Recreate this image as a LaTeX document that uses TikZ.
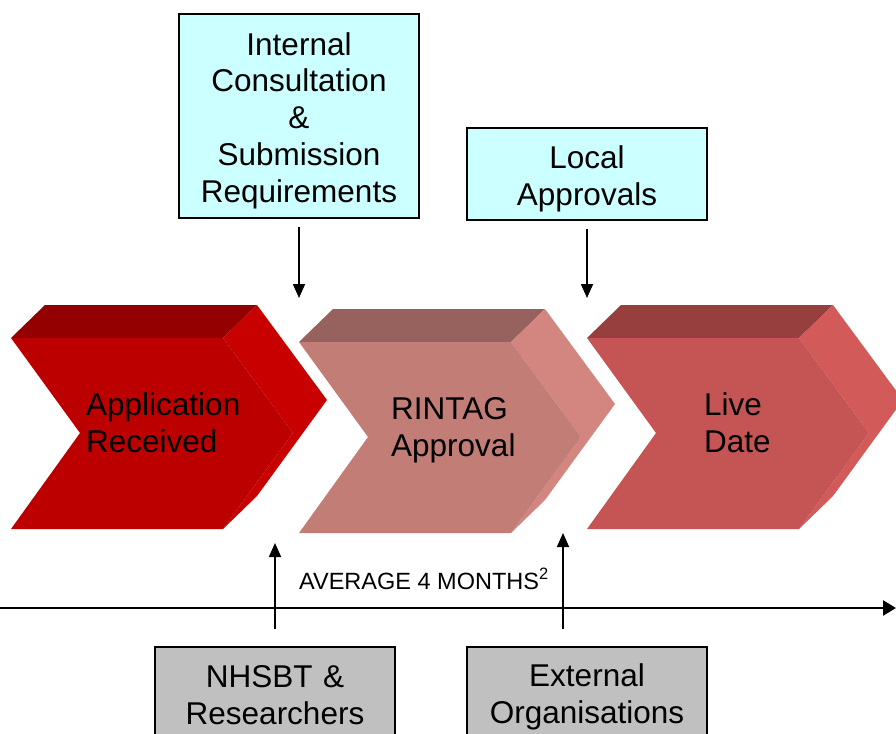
\documentclass[tikz,border=0pt]{standalone}
\usepackage{fontspec}
\setmainfont{Liberation Sans}
\usetikzlibrary{arrows.meta}
\definecolor{fA}{HTML}{BC0000}\definecolor{tA}{HTML}{940000}\definecolor{sA}{HTML}{C80000}
\definecolor{fB}{HTML}{C27D77}\definecolor{tB}{HTML}{97625D}\definecolor{sB}{HTML}{D3857F}
\definecolor{fC}{HTML}{C45554}\definecolor{tC}{HTML}{963F3E}\definecolor{sC}{HTML}{D25B5A}
\definecolor{infobox}{HTML}{CCFFFF}
\definecolor{srcbox}{HTML}{C0C0C0}
% 3D chevron: origin at the front face's top-left corner
\newcommand\drawchevron[5]{%
  \begin{scope}[shift={(#1,#2)}]
    \fill[#4] (0,0) -- (34,-33) -- (246,-33) -- (212,0) -- cycle;
    \fill[#5] (212,0) -- (246,-33) -- (316,62) -- (246,158) -- (212,191) -- (282,95) -- cycle;
    \fill[#3] (0,0) -- (212,0) -- (282,95) -- (212,191) -- (0,191) -- (69,95) -- cycle;
  \end{scope}}
% line strut for the boxed labels (height 32pt, depth 4.8pt)
\newcommand\boxstrut{\rule[-4.8pt]{0pt}{36.8pt}}
\tikzset{
  big/.style={font=\fontsize{31.5}{36.8}\selectfont},
  steptext/.style={big, align=left, anchor=base west, inner sep=0pt},
  infonode/.style={draw=black, line width=1.8pt, fill=infobox, big, align=center, inner sep=0pt, minimum width=240, text width=236},
  srcnode/.style={draw=black, line width=1.8pt, fill=srcbox, big, align=center, inner sep=0pt, minimum width=240, text width=236},
  link/.style={line width=1.8pt, -{Triangle[width=12pt,length=14pt]}},
}
\begin{document}
\begin{tikzpicture}[x=1pt,y=-1pt]
  \useasboundingbox (0,0) rectangle (896,733);
  \clip (0,0) rectangle (896,733);
  % process chevrons
  \drawchevron{11}{338}{fA}{tA}{sA}
  \drawchevron{299}{342}{fB}{tB}{sB}
  \drawchevron{587}{338}{fC}{tC}{sC}
  % labels are placed by the baseline of their last line
  \node[steptext] (app) at (86,452) {Application\\Received};
  \node[steptext] (rin) at (391,456) {RINTAG\\Approval};
  \node[steptext] (live) at (704,452) {Live\\Date};
  % inputs from above
  \node[infonode, minimum height=204] (internal) at (299,116) {\boxstrut Internal\\Consultation\\\&\\Submission\\Requirements\boxstrut};
  \node[infonode, minimum height=92] (local) at (587,174) {\boxstrut Local\\Approvals\boxstrut};
  \coordinate (inA) at (299,298);
  \coordinate (inB) at (587,298);
  \draw[link, shorten <=8pt] (internal.south) -- (inA);
  \draw[link, shorten <=8pt] (local.south) -- (inB);
  % timeline
  \coordinate (t0) at (0,608);
  \coordinate (t1) at (896,608);
  \draw[link, line width=2.5pt, -{Triangle[width=15pt,length=13pt]}] (t0) -- (t1);
  \node[font=\fontsize{23.5}{28}\selectfont, anchor=base west, inner sep=0pt] (avg) at (299,589) {AVERAGE 4 MONTHS\textsuperscript{2}};
  % inputs from below (boxes run past the lower edge)
  \node[srcnode, minimum height=91] (nhs) at (275,692.5) {\boxstrut NHSBT \&\\Researchers\boxstrut};
  \node[srcnode, minimum height=91] (ext) at (587,692.5) {\boxstrut External\\Organisations\boxstrut};
  \coordinate (upA) at (275,543);
  \coordinate (upB) at (563,533);
  \draw[link, shorten <=17pt] (nhs.north) -- (upA);
  \draw[link, shorten <=17pt] (nhs.north -| upB) -- (upB);
\end{tikzpicture}
\end{document}
